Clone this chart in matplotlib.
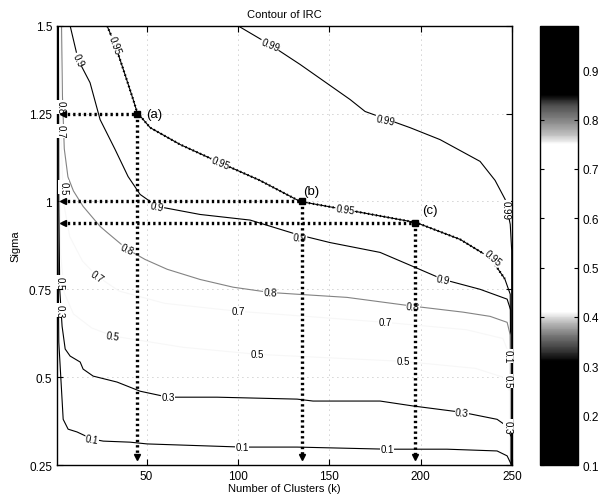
import numpy as np
import matplotlib
matplotlib.use("Agg")
import matplotlib.pyplot as plt
from matplotlib.colors import LinearSegmentedColormap, Normalize
from matplotlib.cm import ScalarMappable

plt.rcParams['font.family'] = ['Liberation Sans', 'DejaVu Sans']

# contour lines of IRC (k, sigma)
c099_k = [100, 117.6, 134, 161.4, 169.6, 194.2, 210.6, 232.5, 240.7, 246.2, 249, 249.8, 249.8]
c099_s = [1.5, 1.446, 1.39, 1.29, 1.256, 1.21, 1.176, 1.114, 1.06, 1.006, 0.935, 0.86, 0.25]
c095_k = [28.4, 32.8, 38.3, 42.7, 44.9, 52, 68.4, 90.3, 112, 134, 158.6, 197.5, 221.6, 238, 246, 249, 249.5]
c095_s = [1.5, 1.446, 1.36, 1.29, 1.253, 1.21, 1.162, 1.11, 1.06, 1.0, 0.977, 0.94, 0.892, 0.84, 0.78, 0.736, 0.25]
c090_k = [8.2, 12.6, 19.1, 24.6, 32.8, 39.9, 46.5, 55.8, 79.3, 106.7, 132.4, 150.4, 177.8, 195.8, 212.3, 232.5, 247.3, 249.3, 249.3]
c090_s = [1.5, 1.403, 1.338, 1.233, 1.148, 1.071, 1.02, 0.986, 0.963, 0.947, 0.906, 0.883, 0.855, 0.815, 0.778, 0.75, 0.722, 0.69, 0.25]
c080_k = [3.5, 4, 5, 7, 10, 15.3, 24.6, 28.4, 39.4, 49.2, 61.3, 79.3, 97.4, 117.6, 132.4, 159.7, 195.8, 223.2, 238, 247.3, 249, 249]
c080_s = [1.5, 1.3, 1.15, 1.07, 1.03, 0.986, 0.929, 0.912, 0.864, 0.835, 0.807, 0.778, 0.756, 0.741, 0.736, 0.727, 0.702, 0.685, 0.673, 0.656, 0.62, 0.25]
c070_k = [2.8, 3.2, 4.5, 8, 15, 23, 35, 60, 100, 140, 180.5, 225, 245, 248.8, 248.8]
c070_s = [1.5, 1.2, 1.0, 0.9, 0.83, 0.787, 0.745, 0.71, 0.6875, 0.672, 0.656, 0.635, 0.61, 0.56, 0.25]
c050_k = [2.2, 2.5, 3, 5, 10, 20, 31.7, 70, 110.5, 150, 190.4, 230, 245, 248.6, 248.6]
c050_s = [1.5, 1.1, 0.85, 0.74, 0.68, 0.64, 0.617, 0.585, 0.565, 0.555, 0.545, 0.525, 0.5, 0.46, 0.25]
c030_k = [1.8, 2, 2.5, 3.8, 5.5, 8.2, 13.7, 15.3, 20.8, 33.9, 46.5, 61.8, 88.6, 132.4, 141.1, 177.8, 195.8, 222.6, 241.8, 247.3, 249.5, 249.5]
c030_s = [1.5, 1.0, 0.75, 0.645, 0.58, 0.56, 0.543, 0.523, 0.503, 0.486, 0.46, 0.443, 0.443, 0.4375, 0.432, 0.432, 0.418, 0.40, 0.38, 0.36, 0.33, 0.25]
c010_k = [1.4, 1.5, 2, 4.4, 7.1, 12, 20.2, 26.3, 41, 50.3, 102.3, 132.4, 181.6, 214.4, 241.8, 247.3, 249.7]
c010_s = [1.5, 0.9, 0.6, 0.38, 0.352, 0.344, 0.324, 0.318, 0.315, 0.31, 0.301, 0.301, 0.295, 0.295, 0.29, 0.276, 0.25]

levels = [0.99, 0.95, 0.9, 0.8, 0.7, 0.5, 0.3, 0.1]
lines_k = [c099_k, c095_k, c090_k, c080_k, c070_k, c050_k, c030_k, c010_k]
lines_s = [c099_s, c095_s, c090_s, c080_s, c070_s, c050_s, c030_s, c010_s]

# inline labels: (k, sigma, text, rotation)
labels = [
    (117.6, 1.446, '0.99', -22), (180.5, 1.233, '0.99', -12), (246.4, 0.977, '0.99', -90),
    (32.8, 1.446, '0.95', -70), (90.3, 1.11, '0.95', -22), (158.6, 0.977, '0.95', -8), (239.6, 0.84, '0.95', -40),
    (12.6, 1.403, '0.9', -65), (55.8, 0.986, '0.9', -12), (134, 0.898, '0.9', -5), (212.3, 0.778, '0.9', -12),
    (39.4, 0.864, '0.8', -25), (117.6, 0.741, '0.8', -3), (195.8, 0.702, '0.8', -5), (3.0, 1.27, '0.8', -90),
    (23, 0.787, '0.7', -35), (100, 0.6875, '0.7', 0), (180.5, 0.656, '0.7', 0), (3.0, 1.20, '0.7', -90),
    (4.4, 1.04, '0.5', -90), (31.7, 0.617, '0.5', -8), (110.5, 0.565, '0.5', 0), (190.4, 0.545, '0.5', 0),
    (2.2, 0.77, '0.5', -90), (247.8, 0.49, '0.5', -90),
    (61.8, 0.443, '0.3', 0), (222.6, 0.40, '0.3', -5), (2.4, 0.69, '0.3', -90), (247.8, 0.36, '0.3', -90),
    (20.2, 0.324, '0.1', -10), (102.3, 0.301, '0.1', 0), (181.6, 0.295, '0.1', 0), (247.8, 0.56, '0.1', -90),
]

# selected points on the 0.95 contour
pt_names = ['(a)', '(b)', '(c)']
pt_k = [45, 135, 197]
pt_s = [1.25, 1.0, 0.94]

# scanned grayscale colormap (value, gray)
cmap_v = [0.10, 0.31, 0.33, 0.36, 0.39, 0.41, 0.75, 0.77, 0.795, 0.83, 0.85, 0.99]
cmap_g = [0.0, 0.0, 0.2, 0.45, 0.75, 1.0, 1.0, 0.75, 0.55, 0.3, 0.0, 0.0]
vmin, vmax = 0.1, 0.99
nodes = [((v - vmin) / (vmax - vmin), (g, g, g)) for v, g in zip(cmap_v, cmap_g)]
cmap = LinearSegmentedColormap.from_list('irc', nodes, N=512)
norm = Normalize(vmin, vmax)

fig = plt.figure(figsize=(6.06, 5.02), dpi=100)
ax = fig.add_axes([0.094, 0.0717, 0.751, 0.875])

for lev, kk, ss in zip(levels, lines_k, lines_s):
    col = cmap(norm(lev))
    g = min(col[0], 0.97)
    ax.plot(kk, ss, color=(g, g, g), lw=0.8, zorder=2)

# 0.95 contour stippled
ax.plot(c095_k[:-2], c095_s[:-2], color='k', lw=1.6, ls=(0, (0.6, 1.2)), zorder=2)

for k, s, t, r in labels:
    ax.text(k, s, t, fontsize=7, rotation=r, ha='center', va='center',
            rotation_mode='anchor', zorder=3,
            bbox=dict(facecolor='white', edgecolor='none', pad=0.3))

dot = (0, (0.7, 0.9))
for name, k, s in zip(pt_names, pt_k, pt_s):
    ax.plot([4, k], [s, s], color='k', lw=2.4, ls=dot, zorder=4)
    ax.plot([k, k], [s, 0.275], color='k', lw=2.4, ls=dot, zorder=4)
    ax.plot(4.2, s, marker='<', color='k', ms=4, zorder=5)
    ax.plot(k, 0.272, marker='v', color='k', ms=4, zorder=5)
    ax.plot(k, s, marker='s', color='k', ms=5, zorder=5)

ax.text(pt_k[0] + 5, pt_s[0], pt_names[0], fontsize=9.5, ha='left', va='center', zorder=6)
ax.text(pt_k[1] + 0.5, pt_s[1] + 0.03, pt_names[1], fontsize=9.5, ha='left', va='center', zorder=6)
ax.text(pt_k[2] + 4, pt_s[2] + 0.035, pt_names[2], fontsize=9.5, ha='left', va='center', zorder=6)

ax.set_xlim(1, 250)
ax.set_ylim(0.25, 1.5)
ax.set_xticks([50, 100, 150, 200, 250])
ax.set_yticks([0.25, 0.5, 0.75, 1, 1.25, 1.5])
ax.set_yticklabels(['0.25', '0.5', '0.75', '1', '1.25', '1.5'])
ax.grid(True, color='0.65', lw=0.6, ls=(0, (1, 5)))
ax.tick_params(direction='in', top=True, right=True, labelsize=8.5, length=4, width=0.8)
for sp in ax.spines.values():
    sp.set_linewidth(1.0)
ax.set_title('Contour of IRC', fontsize=8, pad=6)
ax.set_xlabel('Number of Clusters (k)', fontsize=8, labelpad=1)
ax.set_ylabel('Sigma', fontsize=8, labelpad=6)

cax = fig.add_axes([0.891, 0.0717, 0.063, 0.875])
cb = fig.colorbar(ScalarMappable(norm=norm, cmap=cmap), cax=cax)
cb.set_ticks([0.1, 0.2, 0.3, 0.4, 0.5, 0.6, 0.7, 0.8, 0.9])
cb.set_ticklabels(['0.1', '0.2', '0.3', '0.4', '0.5', '0.6', '0.7', '0.8', '0.9'])
cax.tick_params(direction='in', left=True, right=True, labelsize=8.5, length=3, width=0.8)
cb.outline.set_linewidth(1.0)

fig.savefig('out.png', dpi=100)
